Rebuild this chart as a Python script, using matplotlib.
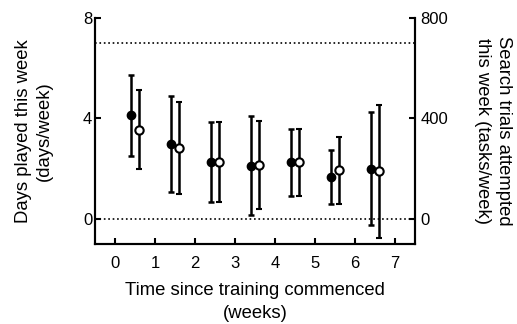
import matplotlib.pyplot as plt
import numpy as np

plt.rcParams['font.family'] = ['Liberation Sans', 'DejaVu Sans']

weeks = [0, 1, 2, 3, 4, 5, 6]
days_mean = [4.12, 2.99, 2.26, 2.11, 2.26, 1.67, 1.99]
days_err = [1.63, 1.90, 1.60, 1.97, 1.33, 1.07, 2.25]
trials_mean = [355, 282, 226, 215, 226, 194, 189]
trials_err = [158, 183, 160, 175, 133, 134, 264]


def plot_chart():
    fig = plt.figure(figsize=(5.17, 3.24), dpi=100)
    ax = fig.add_axes([0.1838, 0.2469, 0.6189, 0.6975])
    ax2 = ax.twinx()

    x = np.array(weeks)
    ax.axhline(7, color="black", ls=":", lw=1.2, zorder=1)
    ax.axhline(0, color="black", ls=":", lw=1.2, zorder=1)

    ax.errorbar(x + 0.4, days_mean, yerr=days_err, fmt="o", color="black",
                ms=6, elinewidth=1.8, capsize=2.2, capthick=1.8, zorder=3)
    ax2.errorbar(x + 0.6, trials_mean, yerr=trials_err, fmt="o", color="black",
                 mfc="white", mec="black", mew=1.5, ms=6, elinewidth=1.8,
                 capsize=2.2, capthick=1.8, zorder=3)

    ax.set_xlim(-0.5, 7.5)
    ax.set_ylim(-1, 8)
    ax2.set_ylim(-100, 800)
    ax.set_xticks(range(8))
    ax.set_yticks([0, 4, 8])
    ax2.set_yticks([0, 400, 800])

    for a in (ax, ax2):
        a.spines["top"].set_visible(False)
        for s in a.spines.values():
            s.set_linewidth(1.5)
        a.tick_params(direction="in", length=4, width=1.5, labelsize=12)
    ax.tick_params(axis="x", pad=8.5)
    ax.tick_params(axis="y", pad=2)
    ax2.tick_params(axis="y", pad=4)

    ax.set_xlabel("Time since training commenced\n(weeks)", fontsize=13.3,
                  linespacing=1.5, labelpad=8)
    ax.set_ylabel("Days played this week\n(days/week)", fontsize=13.3,
                  linespacing=1.3, labelpad=22)
    ax2.set_ylabel("Search trials attempted\nthis week (tasks/week)",
                   fontsize=13.3, rotation=270, linespacing=1.3, labelpad=46)

    fig.savefig("out.png", dpi=100)


if __name__ == "__main__":
    plot_chart()
